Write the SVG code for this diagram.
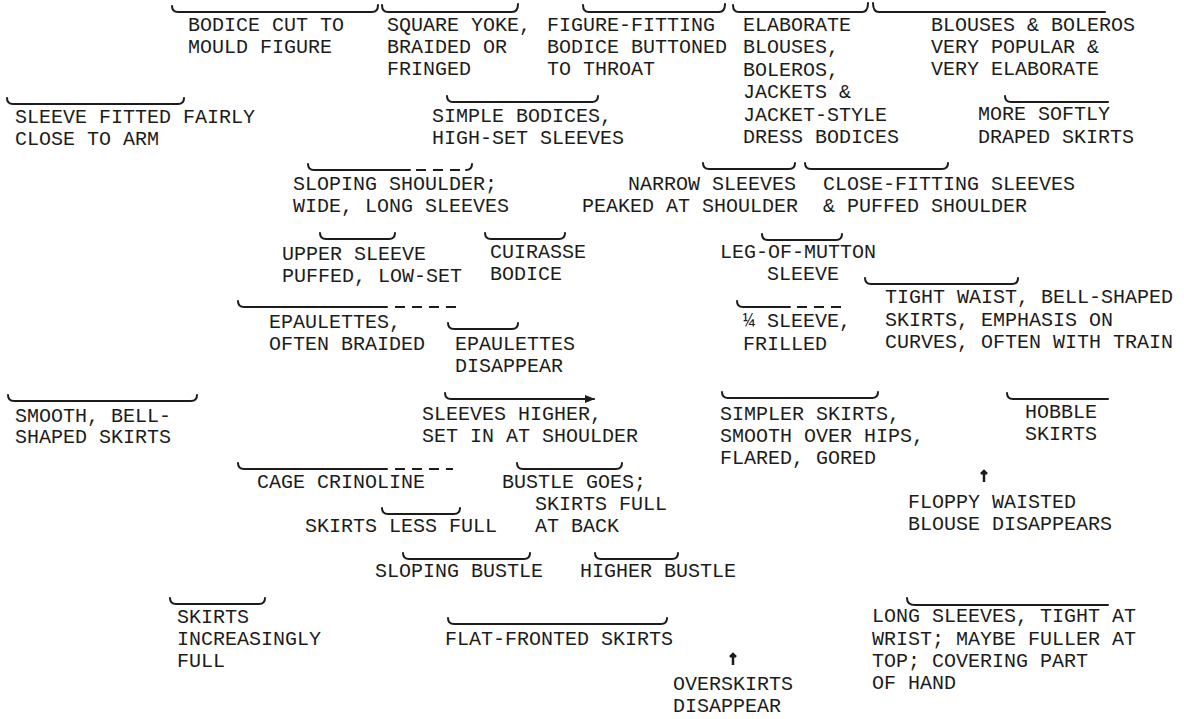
<svg xmlns="http://www.w3.org/2000/svg" width="1184" height="719" viewBox="0 0 1184 719">
<defs>
<style>
text{font-family:"Liberation Mono","DejaVu Sans Mono",monospace;font-size:20px;fill:#1c1c1c}
.br{fill:none;stroke:#1c1c1c;stroke-width:2;stroke-linecap:round}
.da{fill:none;stroke:#1c1c1c;stroke-width:2;stroke-dasharray:10 7}
.mk{fill:none;stroke:#1c1c1c;stroke-width:2.5}
</style>
<marker id="ah" markerWidth="10" markerHeight="8" refX="9" refY="4" orient="auto" markerUnits="userSpaceOnUse">
<path d="M0,0 L10,4 L0,8 Z" fill="#1c1c1c"/>
</marker>
</defs>
<rect width="1184" height="719" fill="#ffffff"/>
<g id="connectors">
<path class="br" d="M172,6 Q172,12 178,12 L372,12 Q378,12 378,5"/>
<path class="br" d="M382,5 Q382,12 388,12 L512,12 Q518,12 518,4"/>
<path class="br" d="M583,5 Q583,12 589,12 L719,12 Q725,12 725,4"/>
<path class="br" d="M733,5 Q733,12 739,12 L862,12 Q868,12 868,3"/>
<path class="br" d="M873,3 Q873,12 879,12 L1105,12"/>
<path class="br" d="M7,98 Q7,104 13,104 L178,104 Q184,104 184,98"/>
<path class="br" d="M447,96 Q447,102 453,102 L592,102 Q598,102 598,96"/>
<path class="br" d="M1005,96 Q1005,102 1011,102 L1108,102"/>
<path class="br" d="M308,164 Q308,170 314,170 L410,170"/>
<path class="da" d="M416,170 L460,170"/>
<path class="br" d="M466,170 Q472,170 472,164"/>
<path class="br" d="M703,163 Q703,169 709,169 L789,169 Q795,169 795,163"/>
<path class="br" d="M805,163 Q805,169 811,169 L942,169 Q948,169 948,163"/>
<path class="br" d="M320,233 Q320,239 326,239 L389,239 Q395,239 395,233"/>
<path class="br" d="M485,233 Q485,239 491,239 L559,239 Q565,239 565,233"/>
<path class="br" d="M762,234 Q762,240 768,240 L836,240 Q842,240 842,234"/>
<path class="br" d="M865,278 Q865,284 871,284 L1012,284 Q1018,284 1018,278"/>
<path class="br" d="M238,301 Q238,307 244,307 L387,307"/>
<path class="da" d="M395,307 L456,307"/>
<path class="br" d="M448,323 Q448,329 454,329 L512,329 Q518,329 518,323"/>
<path class="br" d="M737,301 Q737,307 743,307 L790,307"/>
<path class="da" d="M797,307 L848,307"/>
<path class="br" d="M8,395 Q8,401 14,401 L191,401 Q197,401 197,395"/>
<path class="br" d="M445,393 Q445,399 451,399 L594,399" marker-end="url(#ah)"/>
<path class="br" d="M722,392 Q722,398 728,398 L872,398 Q878,398 878,392"/>
<path class="br" d="M1007,393 Q1007,399 1013,399 L1108,399"/>
<path class="br" d="M238,463 Q238,469 244,469 L387,469"/>
<path class="da" d="M395,469 L453,469"/>
<path class="br" d="M517,463 Q517,469 523,469 L616,469 Q622,469 622,463"/>
<path class="br" d="M382,508 Q382,514 388,514 L454,514 Q460,514 460,508"/>
<path class="br" d="M403,553 Q403,559 409,559 L524,559 Q530,559 530,553"/>
<path class="br" d="M595,553 Q595,559 601,559 L672,559 Q678,559 678,553"/>
<path class="br" d="M170,598 Q170,604 176,604 L259,604 Q265,604 265,598"/>
<path class="br" d="M448,618 Q448,624 454,624 L661,624 Q667,624 667,618"/>
<path class="br" d="M907,598 Q907,605 915,605 L1108,605"/>
<path class="mk" d="M984,472 L984,482 M981,474 L984,471 L987,474"/>
<path class="mk" d="M733,655 L733,665 M730,657 L733,654 L736,657"/>
</g>
<g id="n1"><text x="188" y="31">BODICE CUT TO</text><text x="188" y="53">MOULD FIGURE</text></g>
<g id="n2"><text x="387" y="31">SQUARE YOKE,</text><text x="387" y="53">BRAIDED OR</text><text x="387" y="75">FRINGED</text></g>
<g id="n3"><text x="547" y="31">FIGURE-FITTING</text><text x="547" y="53">BODICE BUTTONED</text><text x="547" y="75">TO THROAT</text></g>
<g id="n4"><text x="743" y="31">ELABORATE</text><text x="743" y="53">BLOUSES,</text><text x="743" y="75.5">BOLEROS,</text><text x="743" y="98">JACKETS &amp;</text><text x="743" y="120.5">JACKET-STYLE</text><text x="743" y="143">DRESS BODICES</text></g>
<g id="n5"><text x="931" y="31">BLOUSES &amp; BOLEROS</text><text x="931" y="53">VERY POPULAR &amp;</text><text x="931" y="75">VERY ELABORATE</text></g>
<g id="n6"><text x="15" y="123">SLEEVE FITTED FAIRLY</text><text x="15" y="145">CLOSE TO ARM</text></g>
<g id="n7"><text x="432" y="122">SIMPLE BODICES,</text><text x="432" y="144">HIGH-SET SLEEVES</text></g>
<g id="n8"><text x="978" y="120">MORE SOFTLY</text><text x="978" y="143">DRAPED SKIRTS</text></g>
<g id="n9"><text x="293" y="190">SLOPING SHOULDER;</text><text x="293" y="212">WIDE, LONG SLEEVES</text></g>
<g id="n10"><text x="628" y="190">NARROW SLEEVES</text><text x="582" y="212">PEAKED AT SHOULDER</text></g>
<g id="n11"><text x="823" y="190">CLOSE-FITTING SLEEVES</text><text x="823" y="212">&amp; PUFFED SHOULDER</text></g>
<g id="n12"><text x="282" y="260">UPPER SLEEVE</text><text x="282" y="282">PUFFED, LOW-SET</text></g>
<g id="n13"><text x="490" y="258">CUIRASSE</text><text x="490" y="280">BODICE</text></g>
<g id="n14"><text x="720" y="258">LEG-OF-MUTTON</text><text x="767" y="280">SLEEVE</text></g>
<g id="n15"><text x="885" y="303">TIGHT WAIST, BELL-SHAPED</text><text x="885" y="326">SKIRTS, EMPHASIS ON</text><text x="885" y="348">CURVES, OFTEN WITH TRAIN</text></g>
<g id="n16"><text x="269" y="328">EPAULETTES,</text><text x="269" y="350">OFTEN BRAIDED</text></g>
<g id="n17"><text x="455" y="350">EPAULETTES</text><text x="455" y="372">DISAPPEAR</text></g>
<g id="n18"><text x="743" y="327">¼ SLEEVE,</text><text x="743" y="350">FRILLED</text></g>
<g id="n19"><text x="15" y="422">SMOOTH, BELL-</text><text x="15" y="443">SHAPED SKIRTS</text></g>
<g id="n20"><text x="422" y="420">SLEEVES HIGHER,</text><text x="422" y="442">SET IN AT SHOULDER</text></g>
<g id="n21"><text x="720" y="420">SIMPLER SKIRTS,</text><text x="720" y="442">SMOOTH OVER HIPS,</text><text x="720" y="464">FLARED, GORED</text></g>
<g id="n22"><text x="1025" y="418">HOBBLE</text><text x="1025" y="440">SKIRTS</text></g>
<g id="n23"><text x="257" y="488">CAGE CRINOLINE</text></g>
<g id="n24"><text x="502" y="488">BUSTLE GOES;</text><text x="535" y="510">SKIRTS FULL</text><text x="535" y="532">AT BACK</text></g>
<g id="n25"><text x="305" y="532">SKIRTS LESS FULL</text></g>
<g id="n26"><text x="908" y="508">FLOPPY WAISTED</text><text x="908" y="530">BLOUSE DISAPPEARS</text></g>
<g id="n27"><text x="375" y="577">SLOPING BUSTLE</text></g>
<g id="n28"><text x="580" y="577">HIGHER BUSTLE</text></g>
<g id="n29"><text x="177" y="623">SKIRTS</text><text x="177" y="645">INCREASINGLY</text><text x="177" y="667">FULL</text></g>
<g id="n30"><text x="445" y="645">FLAT-FRONTED SKIRTS</text></g>
<g id="n31"><text x="673" y="690">OVERSKIRTS</text><text x="673" y="712">DISAPPEAR</text></g>
<g id="n32"><text x="872" y="622">LONG SLEEVES, TIGHT AT</text><text x="872" y="645">WRIST; MAYBE FULLER AT</text><text x="872" y="667">TOP; COVERING PART</text><text x="872" y="689">OF HAND</text></g>
</svg>
